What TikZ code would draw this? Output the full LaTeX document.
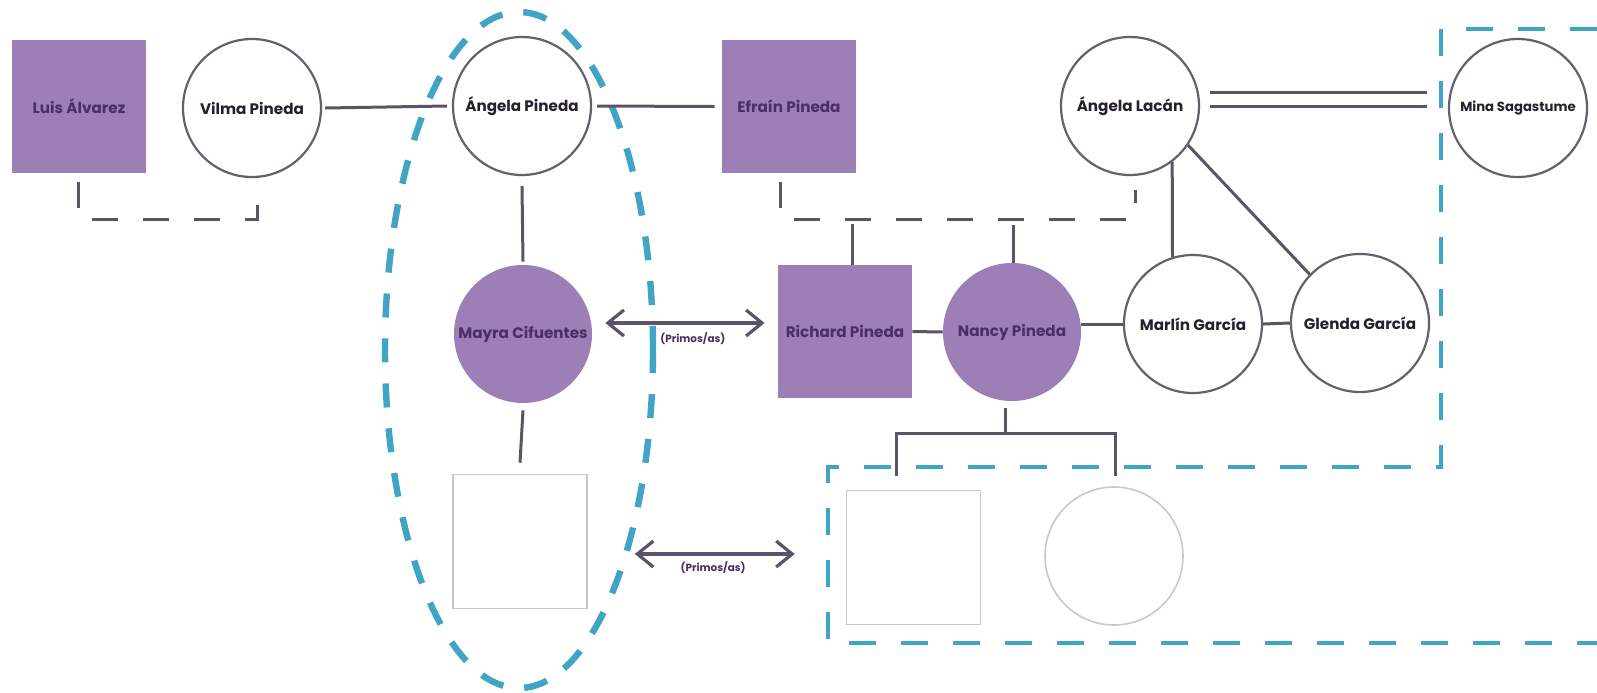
\documentclass[tikz,border=0pt]{standalone}
\usepackage{fontspec}
\setmainfont{Poppins}
\usetikzlibrary{calc,arrows.meta}
\definecolor{purp}{HTML}{9C7FB7}
\definecolor{purptext}{HTML}{4A2F66}
\definecolor{linec}{HTML}{5B5468}
\definecolor{circc}{HTML}{65606C}
\definecolor{darktext}{HTML}{26202E}
\definecolor{lightg}{HTML}{C9C7CC}
\definecolor{tealc}{HTML}{3FA4C6}
\begin{document}
\begin{tikzpicture}[x=0.5pt,y=-0.5pt,
  every node/.style={font=\bfseries\fontsize{7.6}{9}\selectfont, inner sep=0pt, align=center},
  sqfill/.style={rectangle, fill=purp, minimum width=67pt, minimum height=66.5pt, text=purptext},
  cirfill/.style={circle, fill=purp, minimum size=69pt, text=purptext},
  cirwhite/.style={circle, draw=circc, line width=1.1pt, fill=white, minimum size=69pt, text=darktext},
  sqempty/.style={rectangle, draw=lightg, line width=0.8pt, minimum width=67pt, minimum height=67pt},
  cirempty/.style={circle, draw=lightg, line width=0.8pt, minimum size=69pt},
  fam/.style={draw=linec, line width=1.5pt},
  famdash/.style={draw=linec, line width=1.5pt, dash pattern=on 13pt off 12.5pt},
  arr/.style={draw=linec, line width=1.6pt, {Straight Barb[length=8pt,width=13pt,line width=1.6pt]}-{Straight Barb[length=8pt,width=13pt,line width=1.6pt]}},
  lbl/.style={font=\bfseries\fontsize{5.2}{6}\selectfont, text=purptext},
  tealrect/.style={draw=tealc, line width=2pt, dash pattern=on 13.5pt off 12.5pt},
  tealell/.style={draw=tealc, line width=3.2pt, dash pattern=on 12pt off 10.5pt}
]
\useasboundingbox (0,0) rectangle (1597,692);
\fill[white] (0,0) rectangle (1597,692);

% highlight regions
\draw[tealell] (519,350) ellipse [x radius=67pt, y radius=169pt];
\draw[tealrect] (1597,29) -- (1441,29) -- (1441,467) -- (828,467) -- (828,643) -- (1597,643);

% nodes
\node[sqfill] (luis) at (79,106.5) {Luis Álvarez};
\node[cirwhite] (vilma) at (252,108) {Vilma Pineda};
\node[cirwhite] (ap) at (522,106) {Ángela Pineda};
\node[sqfill] (ef) at (789,106.5) {Efraín Pineda};
\node[cirwhite] (al) at (1130,106) {Ángela Lacán};
\node[cirwhite, font=\bfseries\fontsize{6.6}{8}\selectfont] (mina) at (1518,108) {Mina Sagastume};
\node[cirfill] (my) at (523,334) {Mayra Cifuentes};
\node[sqempty] (sq1) at (520,541.5) {};
\node[sqfill] (rp) at (845,331.5) {Richard Pineda};
\node[cirfill] (nc) at (1012,332) {Nancy Pineda};
\node[cirwhite] (mg) at (1193,324) {Marlín García};
\node[cirwhite] (gg) at (1360,323) {Glenda García};
\node[sqempty] (k1) at (913.5,557.5) {};
\node[cirempty] (k2) at (1114,556) {};

% couple / descent lines
\draw[fam] ([xshift=1.5pt]vilma.east) -- ([xshift=-2.5pt]ap.west);
\draw[fam] ([xshift=2.5pt]ap.east) -- ([xshift=-3.5pt]ef.west);
\draw[fam] ($(ap.south)+(0,10)$) -- ($(my.north)+(0,-3)$);
\draw[fam] ($(my.south)+(0,7)$) -- ($(sq1.north)+(0,-11)$);
\draw[famdash] ($(luis.south)+(-1,9)$) |- ($(vilma.south)+(5,41)$) -- ($(vilma.south)+(5,12)$);
\draw[famdash] ($(ef.south)+(-9,9)$) |- ($(al.south)+(5,43)$) -- ($(al.south)+(5,14)$);
\draw[fam] ($(rp.north)+(7,0)$) -- ++(0,-41);
\draw[fam] ($(nc.north)+(1,0)$) -- ++(0,-38);
\draw[fam] ($(al.east)+(10,-14)$) -- ($(mina.west)+(-21,-16)$);
\draw[fam] ($(al.east)+(10,0)$) -- ($(mina.west)+(-21,-2)$);
\draw[fam] (al.-53) -- (mg.107);
\draw[fam] (al.-34) -- (gg.136);
\draw[fam] (rp.east) -- (nc.west);
\draw[fam] (mg.west -| nc.east) -- (mg.west);
\draw[fam] (mg.east) -- (gg.west);
\draw[fam] ($(nc.south)+(-7,7)$) -- ++(0,25) coordinate (bar);
\draw[fam] ($(k1.north)+(-17,-14)$) |- (bar) -| ($(k2.north)+(1,-10)$);

% cousin arrows
\draw[arr] ($(my.east)+(13,-11)$) coordinate (a1s) -- ($(a1s -| rp.west)+(-13,0)$) coordinate (a1e);
\node[lbl] (l1) at ($(a1s)!0.55!(a1e)+(0,16)$) {(Primos/as)};
\draw[arr] ($(sq1.east)+(47,12.5)$) coordinate (a2s) -- ($(a2s -| k1.west)+(-51,0)$) coordinate (a2e);
\node[lbl] (l2) at ($(a2s)!0.49!(a2e)+(0,14)$) {(Primos/as)};
\end{tikzpicture}
\end{document}
